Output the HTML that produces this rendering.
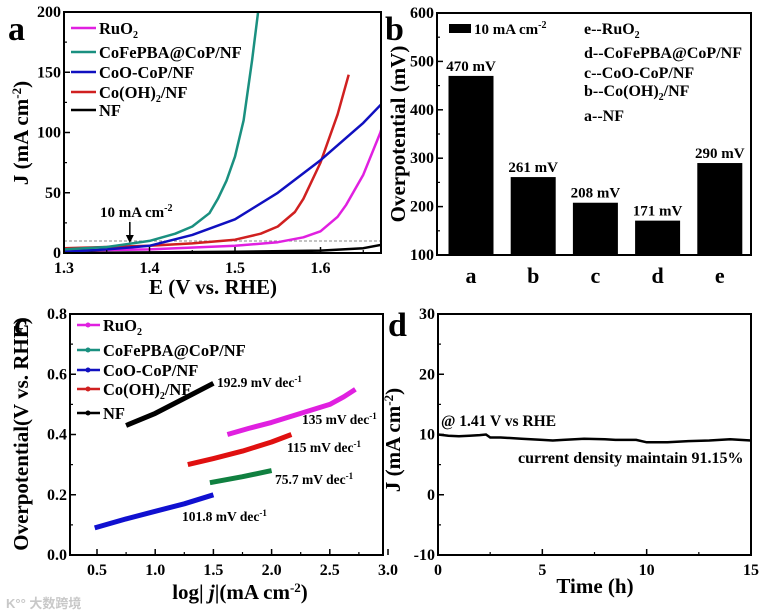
<!DOCTYPE html>
<html><head><meta charset="utf-8">
<style>
html,body{margin:0;padding:0;background:#fff;}
svg{display:block;font-family:"Liberation Serif",serif;font-weight:bold;}
</style></head>
<body>
<svg id="fig" width="765" height="615" viewBox="0 0 765 615" xmlns="http://www.w3.org/2000/svg">
<g id="pa"></g>
<g id="pb"></g>
<g id="pc"></g>
<g id="pd"></g>
<text x="6" y="608" font-size="13" fill="#c8c8c8" font-family="Liberation Sans, Noto Sans CJK SC, sans-serif">K°° 大数跨境</text>
</svg>
<script>
// ---------- Panel A data ----------
const aTicksX = [1.3, 1.4, 1.5, 1.6];
const aTicksY = [0, 50, 100, 150, 200];
const aTealE = [1.3,1.35,1.4,1.43,1.45,1.47,1.48,1.49,1.5,1.51,1.52,1.527];
const aTealJ = [3,5,10,16,22,33,45,60,80,110,160,200];
const aBlueE = [1.3,1.35,1.4,1.45,1.5,1.55,1.6,1.65,1.68];
const aBlueJ = [1,3,6,15,28,50,77,108,130];
const aRedE = [1.3,1.35,1.4,1.45,1.5,1.53,1.55,1.57,1.58,1.6,1.62,1.633];
const aRedJ = [4,5,6,8,11,16,22,34,45,75,115,148];
const aMagE = [1.3,1.4,1.5,1.55,1.58,1.6,1.62,1.63,1.65,1.67,1.68];
const aMagJ = [2,3,6,9,13,18,30,40,65,100,125];
const aBlackE = [1.3,1.4,1.5,1.6,1.65,1.68];
const aBlackJ = [0,0.5,1,2,4,8];
// ---------- Panel B data ----------
const bCats = ['a','b','c','d','e'];
const bVals = [470, 261, 208, 171, 290];
const bLabels = ['470 mV','261 mV','208 mV','171 mV','290 mV'];
const bTicksY = [100,200,300,400,500,600];
// ---------- Panel C data ----------
const cTicksX = [0.5,1.0,1.5,2.0,2.5,3.0];
const cTicksY = [0.0,0.2,0.4,0.6,0.8];
const cBlackX = [0.75,1.0,1.25,1.5];
const cBlackY = [0.43,0.47,0.52,0.57];
const cMagX = [1.62,1.8,2.0,2.25,2.5,2.62,2.72];
const cMagY = [0.40,0.42,0.44,0.47,0.50,0.525,0.55];
const cRedX = [1.28,1.5,1.75,2.0,2.17];
const cRedY = [0.30,0.32,0.345,0.375,0.40];
const cGreenX = [1.47,1.75,2.0];
const cGreenY = [0.24,0.26,0.28];
const cBlueX = [0.48,0.75,1.0,1.25,1.5];
const cBlueY = [0.09,0.12,0.145,0.17,0.20];
// ---------- Panel D data ----------
const dTicksX = [0,5,10,15];
const dTicksY = [-10,0,10,20,30];
const dTime = [0,0.5,1,1.5,2,2.3,2.5,3,4,5,5.5,6,7,8,8.5,9.5,10,10.5,11,12,13,14,15];
const dJ = [10,9.8,9.7,9.8,9.9,10,9.5,9.5,9.3,9.1,9.0,9.1,9.3,9.2,9.1,9.1,8.7,8.7,8.7,8.9,9.0,9.2,9.0];

const NS='http://www.w3.org/2000/svg';
function mk(parent, tag, attrs, text){
  const e=document.createElementNS(NS,tag);
  for(const k in attrs) e.setAttribute(k,attrs[k]);
  if(text!==undefined) e.textContent=text;
  parent.appendChild(e); return e;
}
function lin(d0,d1,r0,r1){return v=>r0+(v-d0)*(r1-r0)/(d1-d0);}
function pathD(xs,ys,fx,fy){return xs.map((v,i)=>(i?'L':'M')+fx(v).toFixed(1)+','+fy(ys[i]).toFixed(1)).join('');}
function box(g,l,t,r,b){
  const e=mk(g,'rect',{x:l,y:t,width:r-l,height:b-t,fill:'none',stroke:'#000','stroke-width':2});
  
  
}
function xTicks(g,vals,fx,b,fmt,minor){
  vals.forEach(v=>{
    const x=fx(v);
    const t=mk(g,'line',{x1:x,x2:x,y1:b,y2:b-6,stroke:'#000','stroke-width':1.5});
    
    
    const l=mk(g,'text',{x:x,y:b+20,'font-size':16,'text-anchor':'middle'},fmt(v));
    
    
  });
  if(minor) minor.forEach(v=>{const x=fx(v);mk(g,'line',{x1:x,x2:x,y1:b,y2:b-3,stroke:'#000','stroke-width':1.2});});
}
function yTicks(g,vals,fy,l,fmt,minor){
  vals.forEach(v=>{
    const y=fy(v);
    const t=mk(g,'line',{x1:l,x2:l+6,y1:y,y2:y,stroke:'#000','stroke-width':1.5});
    
    
    const lb=mk(g,'text',{x:l-3,y:y+5,'font-size':16,'text-anchor':'end'},fmt(v));
    
    
  });
  if(minor) minor.forEach(v=>{const y=fy(v);mk(g,'line',{x1:l,x2:l+3,y1:y,y2:y,stroke:'#000','stroke-width':1.2});});
}
function title(g,x,y,html,rot,size,name){
  const t=mk(g,'text',{x:x,y:y,'font-size':size,'text-anchor':'middle',transform:rot?`rotate(-90 ${x} ${y})`:''});
  t.innerHTML=html;
  
  
  return t;
}
function txt(g,x,y,html,size,name,anchor){
  const t=mk(g,'text',{x:x,y:y,'font-size':size,'text-anchor':anchor||'start'});
  t.innerHTML=html;
  
  
  return t;
}

// ===== Panel A =====
(function(){
  const g=document.getElementById('pa');
  const L=64,T=12,R=381,B=253;
  const fx=lin(1.3,1.4,L,L+85.5), fy=lin(0,200,B,T);
  const cpath=mk(g,'clipPath',{id:'clipA'});
  mk(cpath,'rect',{x:L,y:T,width:R-L,height:B-T});
  const dash=mk(g,'line',{x1:L,x2:R,y1:fy(10),y2:fy(10),stroke:'#888','stroke-width':1,'stroke-dasharray':'3,2'});
  
  
  const series=[[aBlackE,aBlackJ,'#000','nf-curve'],[aMagE,aMagJ,'#e020e0','ruo2-curve'],[aRedE,aRedJ,'#d02020','co-oh2-curve'],[aBlueE,aBlueJ,'#1010c0','coo-cop-curve'],[aTealE,aTealJ,'#1a9080','cofepba-curve']];
  series.forEach(s=>{
    const p=mk(g,'path',{d:pathD(s[0],s[1],fx,fy),fill:'none',stroke:s[2],'stroke-width':2.5,'stroke-linejoin':'round','clip-path':'url(#clipA)'});
    
    
  });
  box(g,L,T,R,B);
  xTicks(g,aTicksX,fx,B,v=>v.toFixed(1),[1.35,1.45,1.55,1.65]);
  yTicks(g,aTicksY,fy,L,v=>v,[25,75,125,175]);
  txt(g,100,217,'10 mA cm<tspan dy="-6" font-size="10">-2</tspan>',15,'annotation-10ma');
  mk(g,'line',{x1:fx(1.377),x2:fx(1.377),y1:222,y2:238,stroke:'#000','stroke-width':1.5});
  mk(g,'path',{d:`M${fx(1.377)-4},235 L${fx(1.377)+4},235 L${fx(1.377)},243 Z`,fill:'#000'});
  const leg=[['#e020e0','RuO<tspan dy="4" font-size="10">2</tspan>',28],['#1a9080','CoFePBA@CoP/NF',52],['#1010c0','CoO-CoP/NF',72],['#d02020','Co(OH)<tspan dy="4" font-size="10">2</tspan><tspan dy="-4">/NF</tspan>',92],['#000','NF',110]];
  leg.forEach(e=>{
    mk(g,'line',{x1:71,x2:96,y1:e[2],y2:e[2],stroke:e[0],'stroke-width':2.5});
    txt(g,99,e[2]+6,e[1],16.5,'legend-entry');
  });
  txt(g,8,40,'a',34,'panel-label-a');
  title(g,213,294,'E (V vs. RHE)',false,21,'x-axis-title');
  title(g,28,133,'J (mA cm<tspan dy="-7" font-size="13">-2</tspan><tspan dy="7">)</tspan>',true,21,'y-axis-title');
})();

// ===== Panel B =====
(function(){
  const g=document.getElementById('pb');
  const L=437,T=13,R=751,B=255;
  const fy=lin(100,600,B,T);
  const fx=i=>471+i*62.2;
  bVals.forEach((v,i)=>{
    const r=mk(g,'rect',{x:fx(i)-22.5,y:fy(v),width:45,height:B-fy(v),fill:'#000'});
    
    
    txt(g,fx(i),fy(v)-5,bLabels[i],15,'bar-value-label','middle');
    txt(g,fx(i),283,bCats[i],22,'x-category-label','middle');
  });
  box(g,L,T,R,B);
  yTicks(g,bTicksY,fy,L,v=>v,[150,250,350,450,550]);
  bCats.forEach((c,i)=>mk(g,'line',{x1:fx(i),x2:fx(i),y1:B,y2:B-5,stroke:'#000','stroke-width':1.5}));
  const lk=mk(g,'rect',{x:449,y:24,width:22,height:9,fill:'#000'});
  
  
  txt(g,474,34,'10 mA cm<tspan dy="-6" font-size="10">-2</tspan>',15,'legend-entry');
  txt(g,584,34,'e--RuO<tspan dy="4" font-size="10">2</tspan>',16,'key-e');
  txt(g,584,58,'d--CoFePBA@CoP/NF',16,'key-d');
  txt(g,584,78,'c--CoO-CoP/NF',16,'key-c');
  txt(g,584,96,'b--Co(OH)<tspan dy="4" font-size="10">2</tspan><tspan dy="-4">/NF</tspan>',16,'key-b');
  txt(g,584,121,'a--NF',16,'key-a');
  txt(g,385,40,'b',34,'panel-label-b');
  title(g,405,134,'Overpotential (mV)',true,21,'y-axis-title');
})();

// ===== Panel C =====
(function(){
  const g=document.getElementById('pc');
  const L=70,T=314,R=383,B=555;
  const fx=lin(0.5,3.0,97,388), fy=lin(0,0.8,B,T);
  const series=[[cBlackX,cBlackY,'#000','nf-tafel'],[cMagX,cMagY,'#e020e0','ruo2-tafel'],[cRedX,cRedY,'#e01010','co-oh2-tafel'],[cGreenX,cGreenY,'#108040','cofepba-tafel'],[cBlueX,cBlueY,'#1010d0','coo-cop-tafel']];
  series.forEach(s=>{
    const p=mk(g,'path',{d:pathD(s[0],s[1],fx,fy),fill:'none',stroke:s[2],'stroke-width':5,'stroke-linejoin':'round'});
    
    
  });
  box(g,L,T,R,B);
  xTicks(g,cTicksX,fx,B,v=>v.toFixed(1),[0.75,1.25,1.75,2.25,2.75]);
  yTicks(g,cTicksY,fy,L,v=>v.toFixed(1),[0.1,0.3,0.5,0.7]);
  const leg=[['#e020e0','RuO<tspan dy="4" font-size="10">2</tspan>',325],['#1a9080','CoFePBA@CoP/NF',350],['#1010c0','CoO-CoP/NF',370],['#d02020','Co(OH)<tspan dy="4" font-size="10">2</tspan><tspan dy="-4">/NF</tspan>',389],['#000','NF',413]];
  leg.forEach(e=>{
    mk(g,'line',{x1:77,x2:100,y1:e[2],y2:e[2],stroke:e[0],'stroke-width':2.5});
    mk(g,'circle',{cx:88,cy:e[2],r:2.5,fill:e[0]});
    txt(g,103,e[2]+6,e[1],16.5,'legend-entry');
  });
  const ann=[[217,387,'192.9'],[302,424,'135'],[287,452,'115'],[275,484,'75.7'],[182,521,'101.8']];
  ann.forEach(a=>txt(g,a[0],a[1],a[2]+' mV dec<tspan dy="-5" font-size="9">-1</tspan>',13.5,'tafel-slope-label'));
  txt(g,14,334,'c',30,'panel-label-c');
  title(g,240,599,'log| <tspan font-style="italic">j</tspan>|(mA cm<tspan dy="-7" font-size="13">-2</tspan><tspan dy="7">)</tspan>',false,21,'x-axis-title');
  title(g,28,434,'Overpotential(V vs. RHE)',true,21,'y-axis-title');
})();

// ===== Panel D =====
(function(){
  const g=document.getElementById('pd');
  const L=438,T=314,R=751,B=555;
  const fx=lin(0,15,L,R), fy=lin(-10,30,B,T);
  const p=mk(g,'path',{d:pathD(dTime,dJ,fx,fy),fill:'none',stroke:'#000','stroke-width':2.5});
  
  
  box(g,L,T,R,B);
  xTicks(g,dTicksX,fx,B,v=>v,[2.5,7.5,12.5]);
  yTicks(g,dTicksY,fy,L,v=>v,[-5,5,15,25]);
  txt(g,441,426,'@ 1.41 V vs RHE',15.5,'condition-label');
  txt(g,518,463,'current density maintain 91.15%',16,'retention-label');
  txt(g,388,336,'d',34,'panel-label-d');
  title(g,595,593,'Time (h)',false,21,'x-axis-title');
  title(g,400,440,'J (mA cm<tspan dy="-7" font-size="13">-2</tspan><tspan dy="7">)</tspan>',true,21,'y-axis-title');
})();
</script>
</body></html>
